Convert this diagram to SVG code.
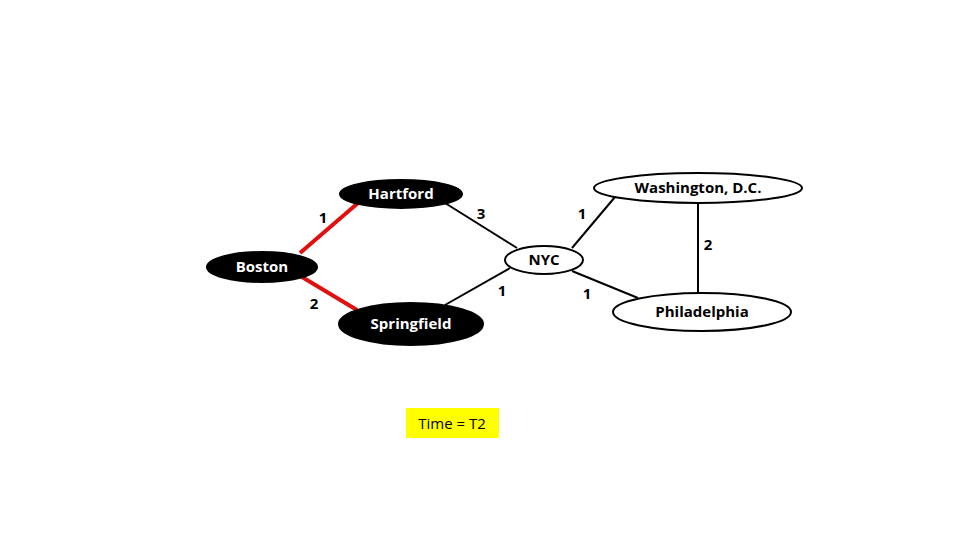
<svg xmlns="http://www.w3.org/2000/svg" width="960" height="540" viewBox="0 0 960 540">
<style>
.e{stroke:#000;stroke-width:2;fill:none}
.r{stroke:#e01010;stroke-width:4;fill:none}
.dark{fill:#000;stroke:#000;stroke-width:2}
.light{fill:#fff;stroke:#000;stroke-width:2}
.t{font-family:"Open Sans","Liberation Sans",sans-serif;font-size:15px;font-weight:bold;text-anchor:middle}
.w{fill:#fff}
.b{fill:#000}
</style>
<rect width="960" height="540" fill="#fff"/>
<g id="connectors">
<line class="r" x1="300" y1="253" x2="358" y2="203"/>
<line class="r" x1="302" y1="277" x2="357" y2="310"/>
<line class="e" x1="445" y1="203" x2="517" y2="248"/>
<line class="e" x1="445" y1="305" x2="510" y2="268"/>
<line class="e" x1="572" y1="248" x2="615" y2="197"/>
<line class="e" x1="572" y1="271" x2="638" y2="298"/>
<line class="e" x1="698" y1="203" x2="698" y2="293"/>
<text class="t b" x="323" y="223">1</text>
<text class="t b" x="481" y="219">3</text>
<text class="t b" x="582" y="219">1</text>
<text class="t b" x="708" y="250">2</text>
<text class="t b" x="502" y="296">1</text>
<text class="t b" x="587" y="299">1</text>
<text class="t b" x="314" y="309">2</text>
</g>
<g id="hartford"><ellipse class="dark" cx="401" cy="194" rx="61" ry="14"/><text class="t w" x="401" y="199">Hartford</text></g>
<g id="boston"><ellipse class="dark" cx="262" cy="267" rx="55" ry="15"/><text class="t w" x="262" y="272">Boston</text></g>
<g id="springfield"><ellipse class="dark" cx="411" cy="324" rx="72" ry="21"/><text class="t w" x="411" y="329">Springfield</text></g>
<g id="nyc"><ellipse class="light" cx="544" cy="260" rx="39" ry="14"/><text class="t b" x="544" y="265">NYC</text></g>
<g id="washington"><ellipse class="light" cx="698" cy="188" rx="104" ry="15"/><text class="t b" x="698" y="193">Washington, D.C.</text></g>
<g id="philadelphia"><ellipse class="light" cx="702" cy="312" rx="89" ry="19"/><text class="t b" x="702" y="317">Philadelphia</text></g>
<g id="time"><rect x="406" y="408" width="93" height="30" fill="#ffff00"/><text x="452" y="429" font-family="Open Sans, Liberation Sans, sans-serif" font-size="15" text-anchor="middle">Time = T2</text></g>
</svg>
